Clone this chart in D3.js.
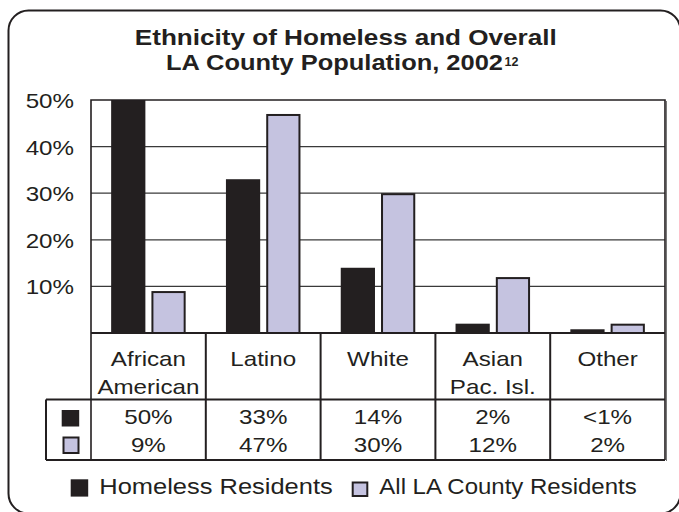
<!DOCTYPE html>
<html>
<head>
<meta charset="utf-8">
<script src="https://cdn.jsdelivr.net/npm/d3@7"></script>
<style>
  html, body { margin: 0; padding: 0; background: #fff; }
  svg { display: block; }
  text { font-family: Arial, "Liberation Sans", Helvetica, sans-serif; fill: #231f20; }
</style>
</head>
<body>
<svg id="chart" width="679" height="512"></svg>
<script>
// ---- data ----
const categories = ["African American", "Latino", "White", "Asian Pac. Isl.", "Other"];
const categoryLines = [["African", "American"], ["Latino"], ["White"], ["Asian", "Pac. Isl."], ["Other"]];
const seriesNames = ["Homeless Residents", "All LA County Residents"];
const homeless = [50, 33, 14, 2, 0.8];
const allCounty = [9, 47, 30, 12, 2];
const homelessLabels = ["50%", "33%", "14%", "2%", "<1%"];
const allCountyLabels = ["9%", "47%", "30%", "12%", "2%"];
const yTicks = [10, 20, 30, 40, 50];
const yTickLabels = ["10%", "20%", "30%", "40%", "50%"];

const DARK = "#231f20";
const LAV = "#c5c3e0";
const colors = [DARK, LAV];

const svg = d3.select("#chart");

// widen text horizontally by factor k (glyphs stretched)
function stretch(sel, k) {
  sel.each(function () {
    const w = this.getComputedTextLength();
    d3.select(this).attr("textLength", w * k).attr("lengthAdjust", "spacingAndGlyphs");
  });
  return sel;
}
function fitWidth(sel, w) {
  return sel.attr("textLength", w).attr("lengthAdjust", "spacingAndGlyphs");
}

// rounded outer frame (right and bottom edges run past the canvas)
svg.append("rect")
  .attr("x", 8.5).attr("y", 10.5).attr("width", 672).attr("height", 503)
  .attr("rx", 20).attr("ry", 20)
  .attr("fill", "none").attr("stroke", DARK).attr("stroke-width", 2);

// title
const t1 = svg.append("text").attr("x", 345.8).attr("y", 45)
  .attr("text-anchor", "middle").attr("font-weight", "bold").attr("font-size", 22.5)
  .text("Ethnicity of Homeless and Overall");
fitWidth(t1, 422);
const t2 = svg.append("text").attr("x", 334.5).attr("y", 70)
  .attr("text-anchor", "middle").attr("font-weight", "bold").attr("font-size", 22.5)
  .text("LA County Population, 2002");
fitWidth(t2, 337);
svg.append("text").attr("x", 504.5).attr("y", 65.5)
  .attr("font-weight", "bold").attr("font-size", 12.5)
  .text("12");

// ---- scales ----
const plot = { left: 91, right: 665, top: 100, bottom: 333 };
const x0 = d3.scaleBand().domain(categories).range([plot.left, plot.right]).padding(0);
const x1 = d3.scaleBand().domain(seriesNames).range([0, x0.bandwidth()])
  .paddingInner(0.15).paddingOuter(0.5);
const y = d3.scaleLinear().domain([0, 50]).range([plot.bottom, plot.top]);

// gridlines
svg.append("g").selectAll("line").data(yTicks.filter(v => v < 50)).join("line")
  .attr("x1", plot.left).attr("x2", plot.right)
  .attr("y1", d => y(d)).attr("y2", d => y(d))
  .attr("stroke", "#3a3a3a").attr("stroke-width", 1.2);

// y axis labels
const yAxis = d3.axisLeft(y).tickValues(yTicks).tickSize(0).tickPadding(0)
  .tickFormat((d, i) => yTickLabels[i]);
const yg = svg.append("g").attr("transform", `translate(74,0)`).call(yAxis);
yg.select(".domain").remove();
yg.selectAll("text").attr("font-size", 21).attr("font-family", null).attr("fill", DARK)
  .attr("dy", "0.36em").attr("x", 0);
stretch(yg.selectAll("text"), 1.15);

// bars
const seriesValues = [homeless, allCounty];
const barData = [];
categories.forEach((c, i) => {
  seriesNames.forEach((s, j) => barData.push({ cat: c, series: s, j, value: seriesValues[j][i] }));
});
svg.append("g").selectAll("rect").data(barData).join("rect")
  .attr("x", d => x0(d.cat) + x1(d.series) + (d.j === 1 ? 1 : 0))
  .attr("width", d => x1.bandwidth() - (d.j === 1 ? 2 : 0))
  .attr("y", d => y(d.value) + (d.j === 1 ? 1 : 0))
  .attr("height", d => Math.max(0, y(0) - y(d.value) - (d.j === 1 ? 1 : 0)))
  .attr("fill", d => colors[d.j])
  .attr("stroke", d => d.j === 1 ? DARK : "none")
  .attr("stroke-width", 2);

// plot frame (top, left, right)
svg.append("path")
  .attr("d", `M${plot.left},460 V${plot.top} H${plot.right} V460`)
  .attr("fill", "none").attr("stroke", DARK).attr("stroke-width", 1.6);
svg.append("line").attr("x1", plot.right + 1.5).attr("x2", plot.right + 1.5)
  .attr("y1", plot.top + 1).attr("y2", 461)
  .attr("stroke", "#777").attr("stroke-width", 1);

// data table
const rowTop = plot.bottom, rowMid = 399.5, rowBottom = 460, legendLeft = 46;
const tbl = svg.append("g").attr("stroke", DARK).attr("stroke-width", 2);
tbl.append("line").attr("x1", plot.left).attr("x2", plot.right).attr("y1", rowTop).attr("y2", rowTop);
tbl.append("line").attr("x1", legendLeft).attr("x2", plot.right).attr("y1", rowMid).attr("y2", rowMid);
tbl.append("line").attr("x1", legendLeft).attr("x2", plot.right).attr("y1", rowBottom).attr("y2", rowBottom);
tbl.append("line").attr("x1", legendLeft).attr("x2", legendLeft).attr("y1", rowMid).attr("y2", rowBottom);
tbl.selectAll("line.col").data(categories.slice(1)).join("line").attr("class", "col")
  .attr("x1", d => x0(d)).attr("x2", d => x0(d)).attr("y1", rowTop).attr("y2", rowBottom);

// category names
const catG = svg.append("g");
categories.forEach((c, i) => {
  const cx = x0(c) + x0.bandwidth() / 2;
  categoryLines[i].forEach((line, k) => {
    const t = catG.append("text").attr("x", cx).attr("y", 366 + k * 28)
      .attr("text-anchor", "middle").attr("font-size", 21).text(line);
    stretch(t, 1.15);
  });
});

// value rows
const valG = svg.append("g");
categories.forEach((c, i) => {
  const cx = x0(c) + x0.bandwidth() / 2;
  [homelessLabels[i], allCountyLabels[i]].forEach((lab, k) => {
    const t = valG.append("text").attr("x", cx).attr("y", 424.3 + k * 27.4)
      .attr("text-anchor", "middle").attr("font-size", 21).text(lab);
    stretch(t, 1.15);
  });
});

// row keys
svg.append("rect").attr("x", 61.7).attr("y", 410).attr("width", 17.5).attr("height", 16.5)
  .attr("fill", DARK);
svg.append("rect").attr("x", 63.5).attr("y", 437.5).attr("width", 15).attr("height", 15.5)
  .attr("fill", LAV).attr("stroke", DARK).attr("stroke-width", 2);

// legend
const legend = svg.append("g");
legend.append("rect").attr("x", 70.7).attr("y", 479.3).attr("width", 17.5).attr("height", 17.3)
  .attr("fill", colors[0]);
fitWidth(legend.append("text").attr("x", 99.3).attr("y", 494.3).attr("font-size", 22)
  .text(seriesNames[0]), 233.4);
legend.append("rect").attr("x", 352.7).attr("y", 482.5).attr("width", 14.6).attr("height", 13.5)
  .attr("fill", colors[1]).attr("stroke", DARK).attr("stroke-width", 2);
fitWidth(legend.append("text").attr("x", 379.3).attr("y", 494.3).attr("font-size", 22)
  .text(seriesNames[1]), 257.4);
</script>
</body>
</html>
